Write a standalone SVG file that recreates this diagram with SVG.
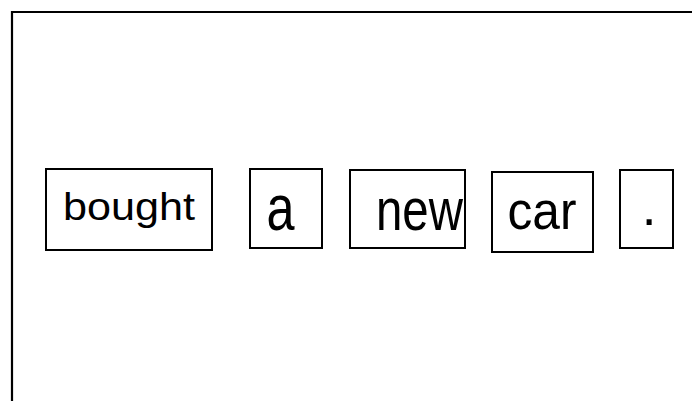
<svg xmlns="http://www.w3.org/2000/svg" width="692" height="401" viewBox="0 0 692 401">
<style>
.box{fill:#fff;stroke:#000;stroke-width:2}
.frame{fill:none;stroke:#000;stroke-width:2.2}
text{font-family:"Liberation Sans",Arial,sans-serif;fill:#000;text-anchor:middle}
</style>
<rect width="692" height="401" fill="#fff"/>
<g id="frame">
<polyline class="frame" points="12,401 12,12 692,12"/>
</g>
<g id="connectors"></g>
<g id="node-bought">
<rect class="box" x="46" y="169" width="166" height="81"/>
<text x="129" y="220" font-size="38" textLength="132" lengthAdjust="spacingAndGlyphs">bought</text>
</g>
<g id="node-a">
<rect class="box" x="250" y="169" width="72" height="79"/>
<text x="280.5" y="230" font-size="64" textLength="28" lengthAdjust="spacingAndGlyphs">a</text>
</g>
<g id="node-new">
<rect class="box" x="350" y="170" width="115" height="78"/>
<text x="419.5" y="230" font-size="60" textLength="87" lengthAdjust="spacingAndGlyphs">new</text>
</g>
<g id="node-car">
<rect class="box" x="492" y="172" width="101" height="80"/>
<text x="542" y="228.5" font-size="53" textLength="69" lengthAdjust="spacingAndGlyphs">car</text>
</g>
<g id="node-period">
<rect class="box" x="620" y="170" width="53" height="78"/>
<text x="649.2" y="225" font-size="53">.</text>
</g>
</svg>
